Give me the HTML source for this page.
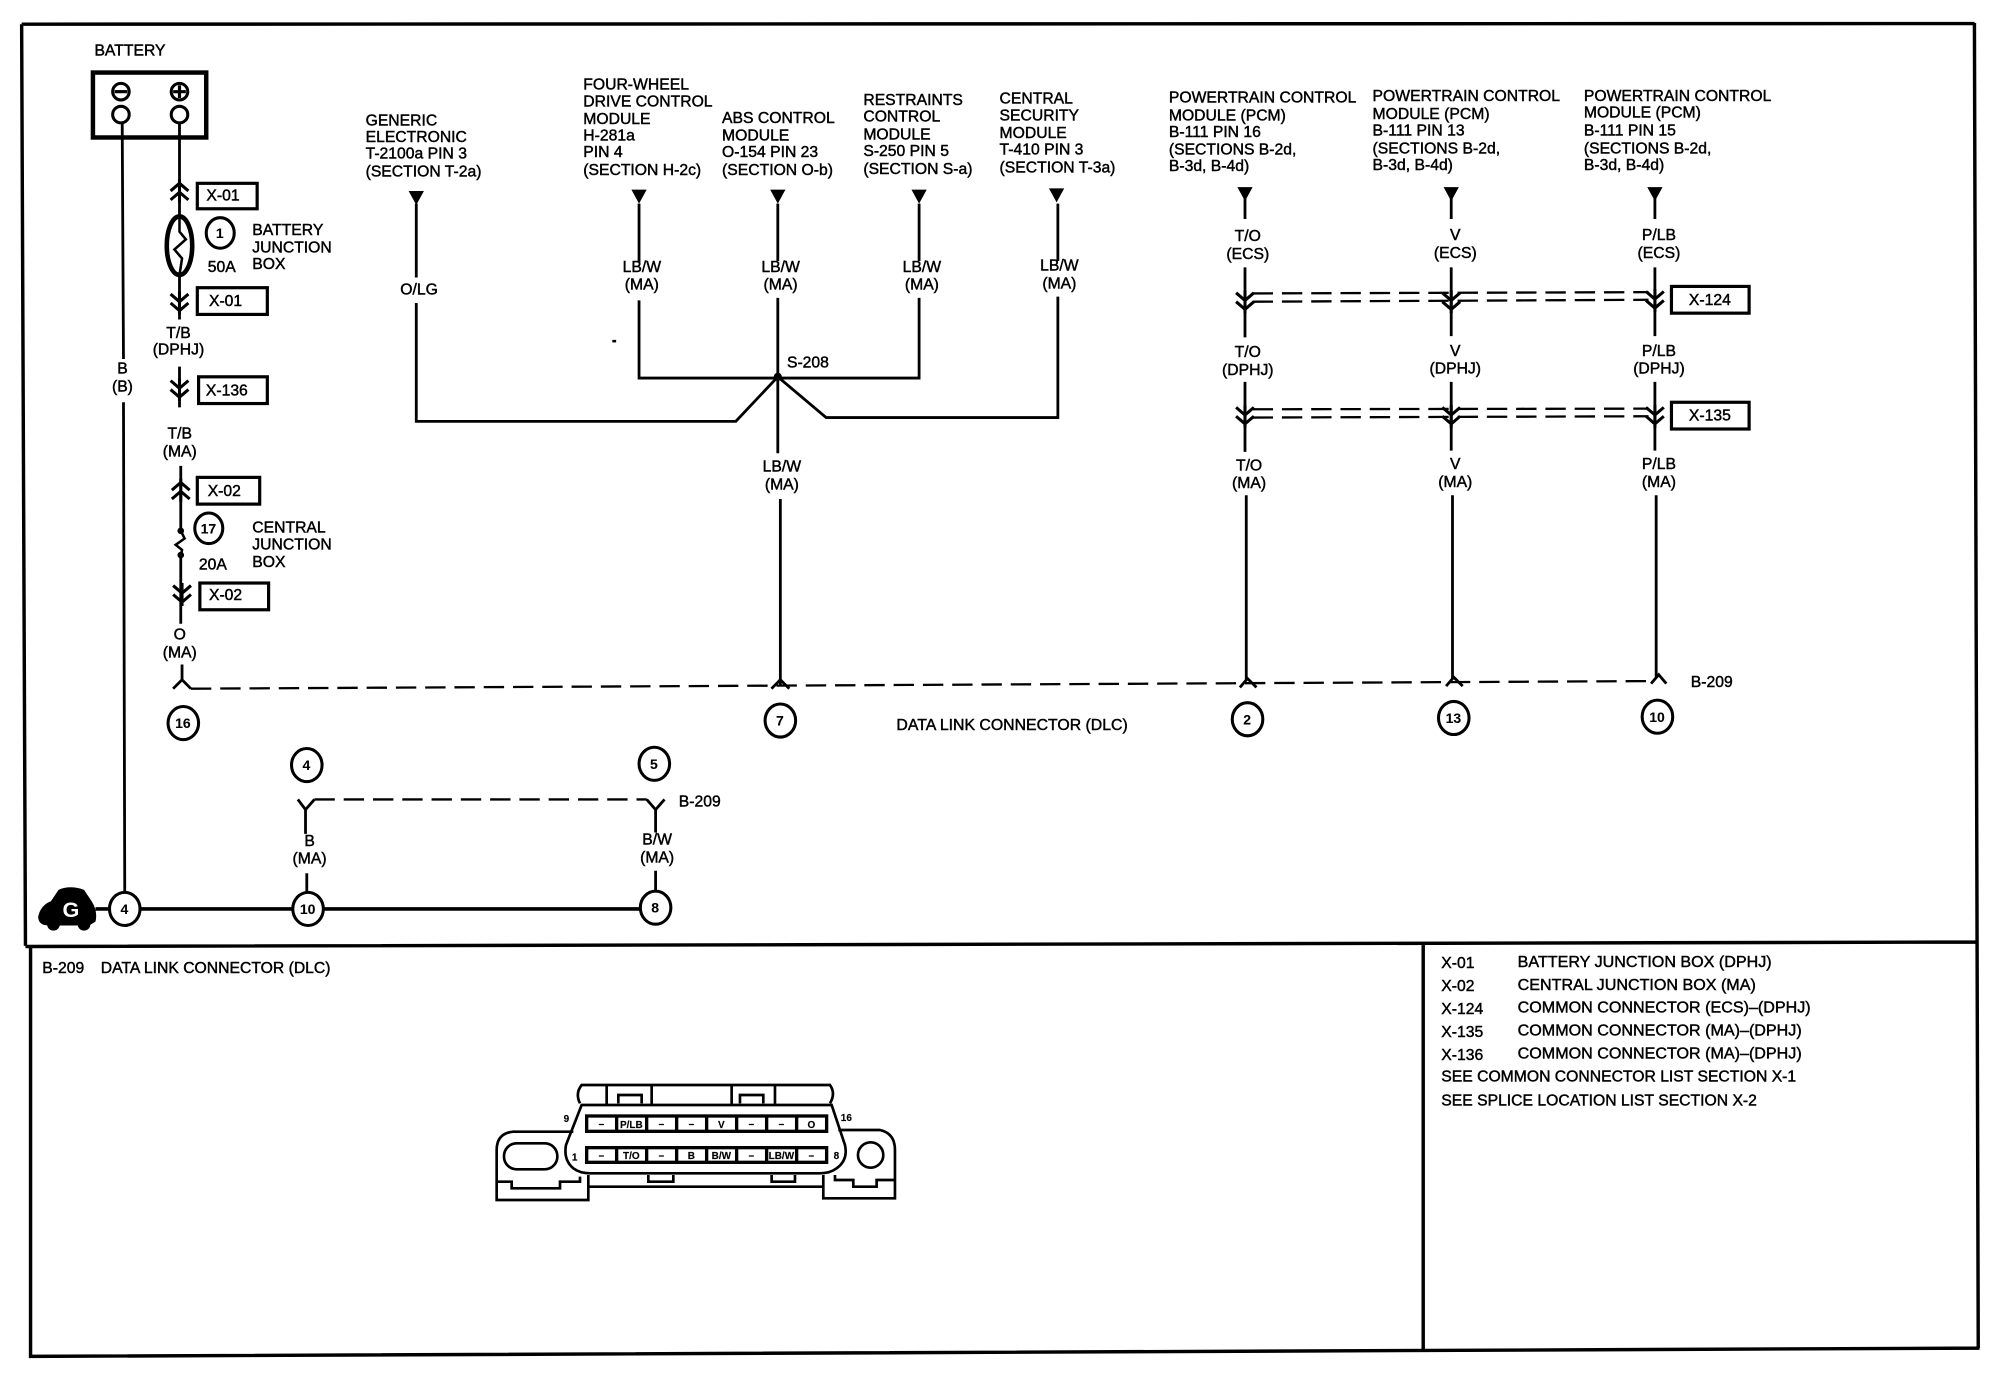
<!DOCTYPE html>
<html><head><meta charset="utf-8"><style>
html,body{margin:0;padding:0;background:#fff}
svg{display:block}
text{font-family:"Liberation Sans",sans-serif;font-size:12.35px;fill:#000;stroke:#000;stroke-width:.35;transform:translate(-.8px,-.5px)}
.c{text-anchor:middle}
.n{font-size:11px;font-weight:bold;stroke-width:.05}
.l{font-size:12.65px}
.w{fill:none;stroke:#000;stroke-width:2.2;stroke-linecap:butt}
.t{fill:none;stroke:#000;stroke-width:2.7}
.d{fill:none;stroke:#000;stroke-width:1.8;stroke-dasharray:16 7}
.b{fill:#fff;stroke:#000;stroke-width:2.5}
.o{fill:#fff;stroke:#000;stroke-width:2.4}
.k{fill:none;stroke:#000;stroke-width:2}
.p{font-size:30px;font-weight:bold;stroke-width:.4;text-anchor:middle}
</style></head><body>
<svg xmlns="http://www.w3.org/2000/svg" width="1994" height="1376" viewBox="0 0 1994 1376">
<defs>
<path id="dn" d="M-7 -7L0 -1L7 -7M-7 0L0 6L7 0M0 -9V9" fill="none" stroke="#000" stroke-width="2.4"/>
<path id="up" d="M-7 7L0 1L7 7M-7 0L0 -6L7 0M0 -9V9" fill="none" stroke="#000" stroke-width="2.4"/>
<path id="tri" d="M-6 0H6L0 11Z" fill="#000"/>
</defs>
<rect width="1994" height="1376" fill="#fff"/>
<g transform="scale(1.273)">
<!-- frame -->
<path class="t" d="M17 19L1551 18.500M17 19L20 743M20 743.500L1553 740M1551 18L1554 1059M24 743V1065.500L1555 1059M1118 741V1060"/>

<!-- battery -->
<text x="75" y="44">BATTERY</text>
<rect x="73" y="57" width="89" height="51" fill="none" stroke="#000" stroke-width="3.5"/>
<circle cx="95" cy="72" r="6.5" class="o"/><path d="M90 72H100" stroke="#000" stroke-width="2.5"/>
<circle cx="95" cy="90" r="6.5" class="o"/>
<circle cx="141" cy="72" r="6.5" class="o"/><path d="M136 72H146M141 67V77" stroke="#000" stroke-width="2.5"/>
<circle cx="141" cy="90" r="6.5" class="o"/>
<path class="w" d="M96 97L97 282M97 316L98 704"/>
<text class="c" x="97" y="294">B</text><text class="c" x="97" y="308">(B)</text>

<!-- left positive branch -->
<path class="w" d="M141 97V170M141 216V251M141 288V320M142 366V416M142 437V490"/>
<use href="#up" x="141" y="150"/>
<ellipse cx="141" cy="193" rx="10" ry="23" fill="#fff" stroke="#000" stroke-width="3.6"/>
<path class="k" d="M141 170L141 182L146 188L137 196L143 203L141 216"/>
<use href="#dn" x="141" y="238"/>
<use href="#dn" x="141" y="306"/>
<use href="#up" x="142" y="385"/>
<use href="#dn" x="143" y="467"/>
<circle cx="142" cy="417" r="2.6"/><circle cx="142" cy="436" r="2.6"/>
<path class="k" d="M142 417L145 423L138 428L143 432L142 437"/>
<rect x="155" y="144" width="47" height="20" class="b"/><text class="c" x="176" y="158">X-01</text>
<rect x="155" y="226" width="55" height="21" class="b"/><text class="c" x="178" y="241">X-01</text>
<rect x="156" y="296" width="54" height="21" class="b"/><text class="c" x="179" y="311">X-136</text>
<rect x="155" y="375" width="49" height="21" class="b"/><text class="c" x="177" y="390">X-02</text>
<rect x="157" y="458" width="54" height="21" class="b"/><text class="c" x="178" y="472">X-02</text>
<ellipse cx="173" cy="183" rx="11" ry="12" class="o"/><text class="c n" x="173.500" y="187.500">1</text>
<ellipse cx="164" cy="415" rx="11" ry="12" class="o"/><text class="c n" x="164.500" y="419.500">17</text>
<text x="164" y="214">50A</text>
<text x="199" y="185">BATTERY</text><text x="199" y="199">JUNCTION</text><text x="199" y="212">BOX</text>
<text x="157" y="448">20A</text>
<text x="199" y="419">CENTRAL</text><text x="199" y="432">JUNCTION</text><text x="199" y="446">BOX</text>
<text class="c" x="141" y="266">T/B</text><text class="c" x="141" y="279">(DPHJ)</text>
<text class="c" x="142" y="345">T/B</text><text class="c" x="142" y="359">(MA)</text>
<text class="c" x="142" y="503">O</text><text class="c" x="142" y="517">(MA)</text>
<path class="w" d="M143 522V534M136 541L143 534L150 541"/>

<!-- DLC dashed -->
<path class="d" d="M150 541L1298 535"/>
<path class="w" d="M974 540L980 533L987 540M1136 539L1142 532L1149 539M1297 537L1303 530L1309 537"/>
<path class="w" d="M606 541L613 534L620 541"/>
<ellipse cx="144" cy="568" rx="12" ry="13" class="o"/><text class="c n" x="144.500" y="572.500">16</text>
<ellipse cx="613" cy="566" rx="12" ry="13" class="o"/><text class="c n" x="613.500" y="570.500">7</text>
<ellipse cx="980" cy="565" rx="12" ry="13" class="o"/><text class="c n" x="980.500" y="569.500">2</text>
<ellipse cx="1142" cy="564" rx="12" ry="13" class="o"/><text class="c n" x="1142.500" y="568.500">13</text>
<ellipse cx="1302" cy="563" rx="12" ry="13" class="o"/><text class="c n" x="1302.500" y="567.500">10</text>
<text x="705" y="574" style="font-size:12.45px">DATA LINK CONNECTOR (DLC)</text>
<text x="1329" y="540">B-209</text>

<!-- ground group -->
<ellipse cx="241" cy="601" rx="12" ry="13" class="o"/><text class="c n" x="241.500" y="605.500">4</text>
<ellipse cx="514" cy="600" rx="12" ry="13" class="o"/><text class="c n" x="514.500" y="604.500">5</text>
<path class="w" d="M234 628L240 636L247 628M240 636V655M508 628L515 636L522 628M515 636V654"/>
<path class="d" d="M247 628H508"/>
<text x="534" y="634">B-209</text>
<text class="c" x="244" y="665">B</text><text class="c" x="244" y="679">(MA)</text>
<text class="c" x="517" y="664">B/W</text><text class="c" x="517" y="678">(MA)</text>
<path class="w" d="M241 686V703M515 684V702"/>
<path d="M75 714H503" stroke="#000" stroke-width="2.8"/>
<path d="M30 720Q32 711 40 708L46 699Q55 695 66 699L72 708Q77 716 75 724L70 727H38Q30 727 30 720Z" fill="#000"/>
<circle cx="42" cy="726" r="5"/><circle cx="66" cy="726" r="5"/>
<text class="c" x="56.500" y="721" style="font-size:17px;font-weight:bold;fill:#fff;stroke:none">G</text>
<ellipse cx="98" cy="714" rx="12" ry="13" class="o"/><text class="c n" x="98.500" y="718.500">4</text>
<ellipse cx="242" cy="714" rx="12" ry="13" class="o"/><text class="c n" x="242.500" y="718.500">10</text>
<ellipse cx="515" cy="713" rx="12" ry="13" class="o"/><text class="c n" x="515.500" y="717.500">8</text>

<!-- module labels -->
<text x="288" y="99">GENERIC</text><text x="288" y="112">ELECTRONIC</text><text x="288" y="125">T-2100a PIN 3</text><text x="288" y="139">(SECTION T-2a)</text>
<text x="459" y="71">FOUR-WHEEL</text><text x="459" y="84">DRIVE CONTROL</text><text x="459" y="98">MODULE</text><text x="459" y="111">H-281a</text><text x="459" y="124">PIN 4</text><text x="459" y="138">(SECTION H-2c)</text>
<text x="568" y="97">ABS CONTROL</text><text x="568" y="111">MODULE</text><text x="568" y="124">O-154 PIN 23</text><text x="568" y="138">(SECTION O-b)</text>
<text x="679" y="83">RESTRAINTS</text><text x="679" y="96">CONTROL</text><text x="679" y="110">MODULE</text><text x="679" y="123">S-250 PIN 5</text><text x="679" y="137">(SECTION S-a)</text>
<text x="786" y="82">CENTRAL</text><text x="786" y="95">SECURITY</text><text x="786" y="109">MODULE</text><text x="786" y="122">T-410 PIN 3</text><text x="786" y="136">(SECTION T-3a)</text>
<text x="919" y="81">POWERTRAIN CONTROL</text><text x="919" y="95">MODULE (PCM)</text><text x="919" y="108">B-111 PIN 16</text><text x="919" y="122">(SECTIONS B-2d,</text><text x="919" y="135">B-3d, B-4d)</text>
<text x="1079" y="80">POWERTRAIN CONTROL</text><text x="1079" y="94">MODULE (PCM)</text><text x="1079" y="107">B-111 PIN 13</text><text x="1079" y="121">(SECTIONS B-2d,</text><text x="1079" y="134">B-3d, B-4d)</text>
<text x="1245" y="80">POWERTRAIN CONTROL</text><text x="1245" y="93">MODULE (PCM)</text><text x="1245" y="107">B-111 PIN 15</text><text x="1245" y="121">(SECTIONS B-2d,</text><text x="1245" y="134">B-3d, B-4d)</text>

<!-- splice network -->
<use href="#tri" x="327" y="150"/><use href="#tri" x="502" y="149"/><use href="#tri" x="611" y="149"/><use href="#tri" x="722" y="149"/><use href="#tri" x="830" y="148"/>
<path class="w" d="M327 160V218M327 238V331H578L611 296M502 160V206M502 236V297H722V234M722 160V205M611 160V205M611 234V356M831 160V205M831 233V328H649L611 296M613 392V538"/>
<circle cx="611" cy="296" r="3.2"/>
<rect x="481" y="267" width="3" height="2"/>
<text x="619" y="289">S-208</text>
<text class="c" x="330" y="232">O/LG</text>
<text class="c" x="505" y="214">LB/W</text><text class="c" x="505" y="228">(MA)</text>
<text class="c" x="614" y="214">LB/W</text><text class="c" x="614" y="228">(MA)</text>
<text class="c" x="725" y="214">LB/W</text><text class="c" x="725" y="228">(MA)</text>
<text class="c" x="833" y="213">LB/W</text><text class="c" x="833" y="227">(MA)</text>
<text class="c" x="615" y="371">LB/W</text><text class="c" x="615" y="385">(MA)</text>

<!-- PCM wires -->
<use href="#tri" x="978" y="147"/><use href="#tri" x="1140" y="147"/><use href="#tri" x="1300" y="147"/>
<path class="w" d="M978 155V172M1140 155V172M1300 155V172M978 210V265M1140 210V264M1300 210V264M978 300V355M1140 300V354M1300 300V354M979 389V534M1141 389V533M1301 389V532"/>
<use href="#dn" x="978" y="237"/><use href="#dn" x="1140" y="237"/><use href="#dn" x="1300" y="236"/>
<use href="#dn" x="978" y="327"/><use href="#dn" x="1140" y="327"/><use href="#dn" x="1300" y="327"/>
<path class="d" d="M984 230.500L1295 229.500M984 237L1295 235.500M984 321.500L1295 321M984 328L1295 327"/>
<text class="c" x="981" y="190">T/O</text><text class="c" x="981" y="204">(ECS)</text>
<text class="c" x="1144" y="189">V</text><text class="c" x="1144" y="203">(ECS)</text>
<text class="c" x="1304" y="189">P/LB</text><text class="c" x="1304" y="203">(ECS)</text>
<text class="c" x="981" y="281">T/O</text><text class="c" x="981" y="295">(DPHJ)</text>
<text class="c" x="1144" y="280">V</text><text class="c" x="1144" y="294">(DPHJ)</text>
<text class="c" x="1304" y="280">P/LB</text><text class="c" x="1304" y="294">(DPHJ)</text>
<text class="c" x="982" y="370">T/O</text><text class="c" x="982" y="384">(MA)</text>
<text class="c" x="1144" y="369">V</text><text class="c" x="1144" y="383">(MA)</text>
<text class="c" x="1304" y="369">P/LB</text><text class="c" x="1304" y="383">(MA)</text>
<rect x="1313" y="225" width="61" height="21" class="b"/><text class="c" x="1344" y="240">X-124</text>
<rect x="1313" y="316" width="61" height="21" class="b"/><text class="c" x="1344" y="331">X-135</text>

<!-- lower left -->
<text x="34" y="765">B-209</text><text x="80" y="765">DATA LINK CONNECTOR (DLC)</text>

<!-- legend -->
<text x="1133" y="761">X-01</text><text class="l" x="1193" y="760">BATTERY JUNCTION BOX (DPHJ)</text>
<text x="1133" y="779">X-02</text><text class="l" x="1193" y="778">CENTRAL JUNCTION BOX (MA)</text>
<text x="1133" y="797">X-124</text><text class="l" x="1193" y="796">COMMON CONNECTOR (ECS)–(DPHJ)</text>
<text x="1133" y="815">X-135</text><text class="l" x="1193" y="814">COMMON CONNECTOR (MA)–(DPHJ)</text>
<text x="1133" y="833">X-136</text><text class="l" x="1193" y="832">COMMON CONNECTOR (MA)–(DPHJ)</text>
<text x="1133" y="850">SEE COMMON CONNECTOR LIST SECTION X-1</text>
<text x="1133" y="869">SEE SPLICE LOCATION LIST SECTION X-2</text>
</g>

<!-- connector drawing, real-pixel group -->
<g transform="translate(480,1070) scale(.3333)" fill="none" stroke="#000" stroke-width="8">
<path d="M300 100Q285 70 305 45H1050Q1068 70 1050 100M380 45V105M515 45V105M755 45V105M885 45V105"/>
<path d="M415 100V75H485V100M780 100V75H850V100"/>
<path d="M305 105H1055L1095 225Q1105 270 1070 295Q1050 310 1020 310H330Q300 310 280 295Q250 270 258 225Z"/>
<path d="M280 185H100Q50 190 50 240V390H325V315M50 335H95V355H240V335H300V320"/>
<path d="M1075 180H1200Q1245 190 1245 240V385H1030V315M1245 330H1190V350H1120V330H1065V315"/>
<path d="M325 350H1030"/>
<path d="M505 315V335H580V315M875 315V335H945V315"/>
<rect x="72" y="220" width="160" height="78" rx="38"/>
<circle cx="1172" cy="255" r="38"/>
<g stroke-width="10">
<rect x="320" y="138" width="720" height="46"/><rect x="320" y="233" width="720" height="44"/>
<path d="M410 138V184M500 138V184M590 138V184M680 138V184M770 138V184M860 138V184M950 138V184M410 233V277M500 233V277M590 233V277M680 233V277M770 233V277M860 233V277M950 233V277"/>
</g>
<g>
<text class="p" x="365" y="172">–</text><text class="p" x="455" y="174">P/LB</text><text class="p" x="545" y="172">–</text><text class="p" x="635" y="172">–</text><text class="p" x="725" y="174">V</text><text class="p" x="815" y="172">–</text><text class="p" x="905" y="172">–</text><text class="p" x="995" y="174">O</text>
<text class="p" x="365" y="266">–</text><text class="p" x="455" y="268">T/O</text><text class="p" x="545" y="266">–</text><text class="p" x="635" y="268">B</text><text class="p" x="725" y="268">B/W</text><text class="p" x="815" y="266">–</text><text class="p" x="905" y="268">LB/W</text><text class="p" x="995" y="266">–</text>
<text class="p" x="260" y="157">9</text><text class="p" x="1100" y="153">16</text><text class="p" x="285" y="272">1</text><text class="p" x="1070" y="268">8</text>
</g>
</g>
</svg>
</body></html>
